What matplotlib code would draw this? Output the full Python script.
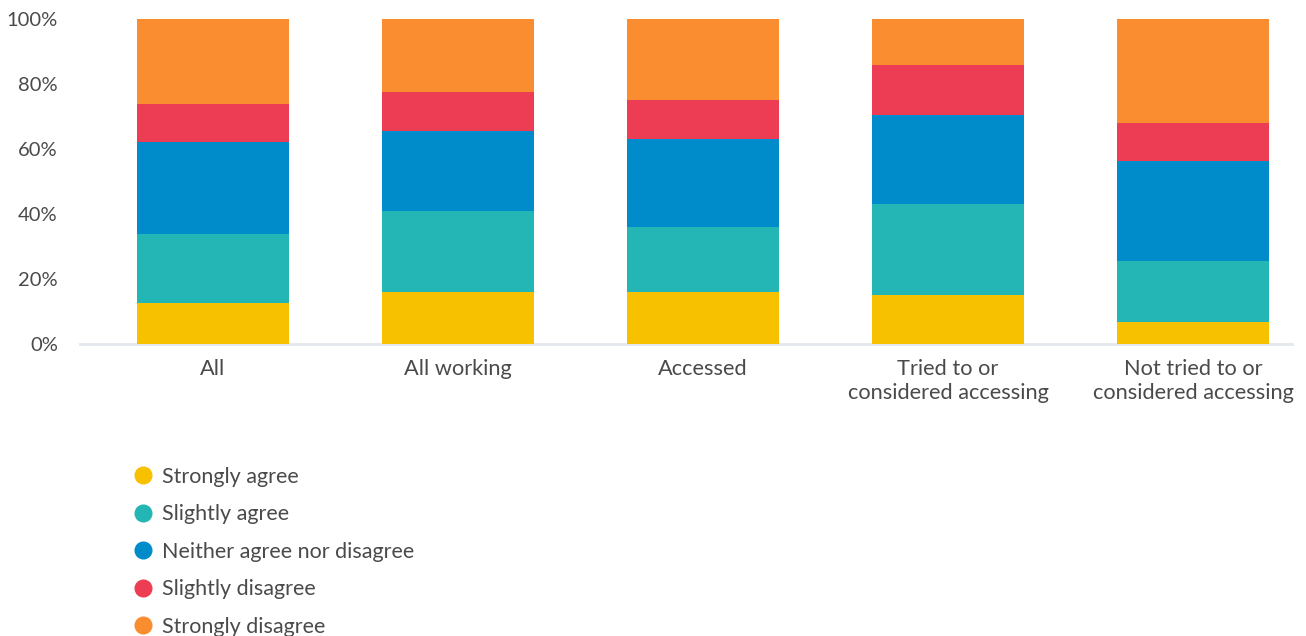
import matplotlib.pyplot as plt
from matplotlib.lines import Line2D
import numpy as np

plt.rcParams['font.family'] = ['Lato', 'DejaVu Sans']

groups = ['All', 'All working', 'Accessed', 'Tried to or\nconsidered accessing',
          'Not tried to or\nconsidered accessing']
responses = ['Strongly agree', 'Slightly agree', 'Neither agree nor disagree',
             'Slightly disagree', 'Strongly disagree']
strongly_agree = [12.5, 15.9, 15.9, 15.0, 6.8]
slightly_agree = [21.3, 25.1, 20.0, 28.1, 18.7]
neither = [28.4, 24.5, 27.1, 27.3, 30.8]
slightly_disagree = [11.7, 12.1, 12.1, 15.4, 11.7]
strongly_disagree = [26.1, 22.4, 24.9, 14.2, 32.0]
colors = ['#F8C100', '#24B5B5', '#008BCA', '#EC3D55', '#F98D2F']

series = [strongly_agree, slightly_agree, neither, slightly_disagree, strongly_disagree]
text_col = '#4a4a4c'

fig = plt.figure(figsize=(13.06, 6.36), dpi=100)
ax = fig.add_axes([80 / 1306, 292 / 636, 1212 / 1306, 325 / 636])

x = np.arange(len(groups))
bottom = np.zeros(len(groups))
for vals, col, name in zip(series, colors, responses):
    ax.bar(x, vals, bottom=bottom, width=0.62, color=col, label=name, zorder=2)
    bottom += np.array(vals)

ax.set_xlim(-0.543, 4.404)
ax.set_ylim(0, 100)
ax.set_yticks([0, 20, 40, 60, 80, 100])
ax.set_yticklabels([f'{v}%' for v in [0, 20, 40, 60, 80, 100]])
ax.set_xticks(x)
ax.set_xticklabels(groups, linespacing=1.23)
ax.tick_params(axis='y', length=0, pad=16, labelsize=14.5, labelcolor=text_col)
ax.tick_params(axis='x', length=0, pad=11, labelsize=15.7, labelcolor=text_col)
for s in ['top', 'right', 'left']:
    ax.spines[s].set_visible(False)
ax.spines['bottom'].set_color('#e3e8ec')
ax.spines['bottom'].set_linewidth(2)
ax.spines['bottom'].set_zorder(1)

handles = [Line2D([], [], marker='o', linestyle='none', markersize=12,
                  markerfacecolor=c, markeredgecolor=c) for c in colors]
fig.legend(handles, responses, loc='upper left', bbox_to_anchor=(135 / 1306, 1 - 467 / 636),
           frameon=False, fontsize=15.5, labelcolor=text_col, handlelength=0.75,
           handletextpad=0.5, labelspacing=0.81, borderpad=0, borderaxespad=0)

fig.savefig('out.png', dpi=100)
